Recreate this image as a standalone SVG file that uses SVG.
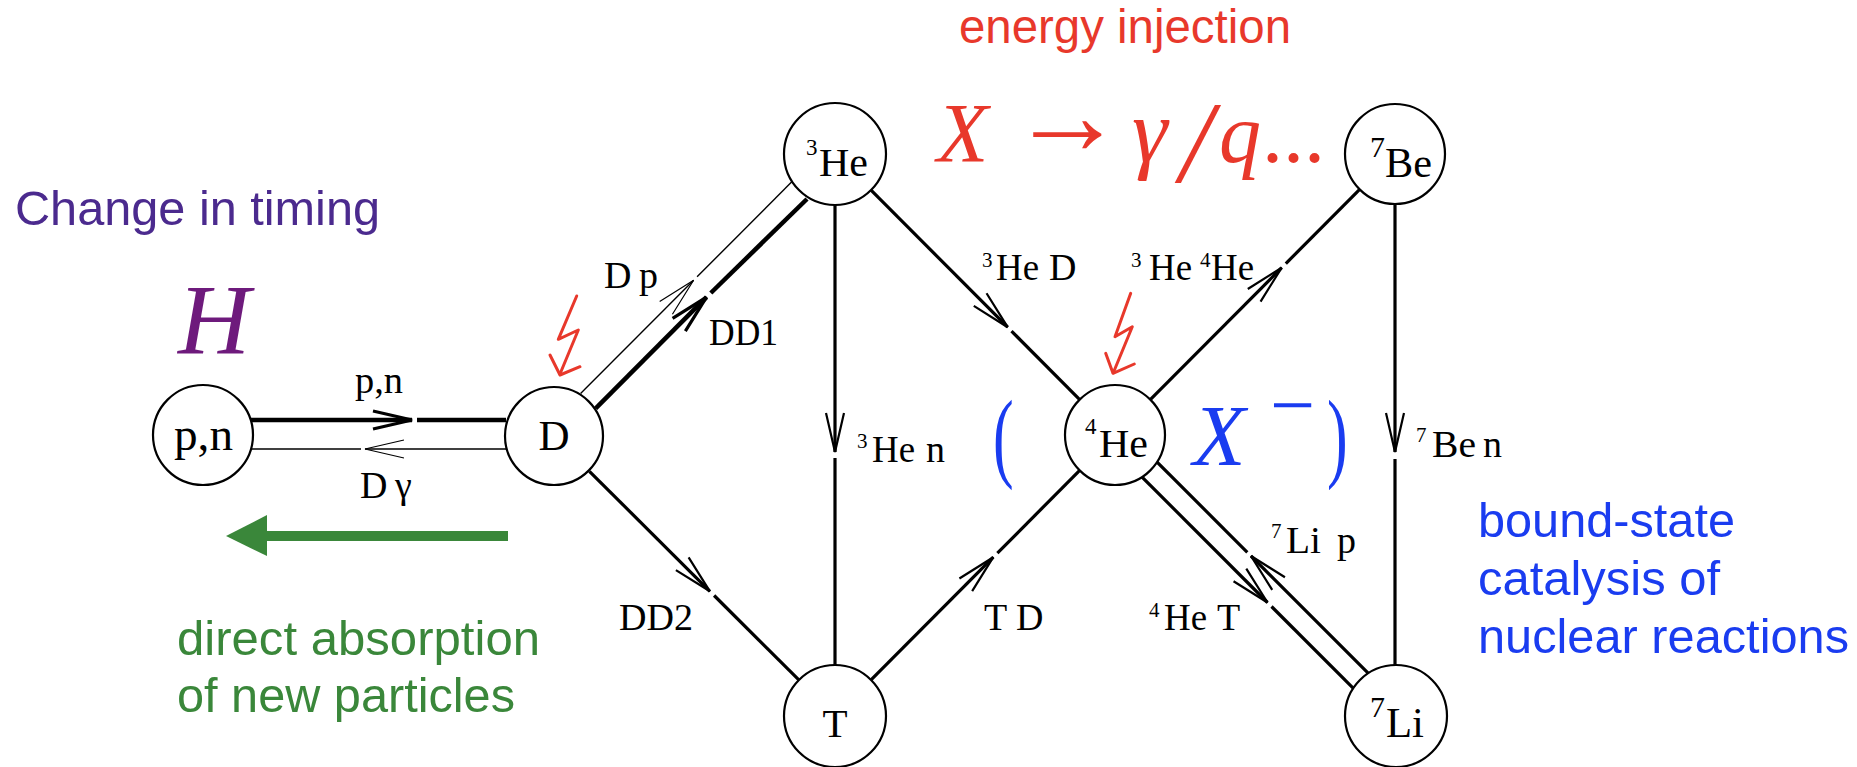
<svg xmlns="http://www.w3.org/2000/svg" width="1857" height="767" viewBox="0 0 1857 767">
<style>
  .bg { fill: #ffffff; }
  .node circle { fill: #ffffff; stroke: #000000; stroke-width: 2.2; }
  .nl { font-family: "Liberation Serif", "Times New Roman", serif; fill: #000000; }
  .el { font-family: "Liberation Serif", "Times New Roman", serif; font-size: 38px; fill: #000000; }
  .sup { font-size: 21px; }
  .thick { stroke: #000000; stroke-width: 4.5; fill: none; }
  .mid { stroke: #000000; stroke-width: 3.2; fill: none; }
  .thin { stroke: #000000; stroke-width: 1.4; fill: none; }
  .bolt { stroke: #e8382b; stroke-width: 3; fill: none; stroke-linejoin: round; stroke-linecap: round; }
  .sans { font-family: "Liberation Sans", Arial, sans-serif; font-size: 48px; }
  .math { font-family: "Liberation Serif", "Times New Roman", serif; }
</style>
<defs>
  <marker id="ahThick" markerUnits="userSpaceOnUse" viewBox="-44 -14 48 28" markerWidth="48" markerHeight="28" refX="0" refY="0" orient="auto" overflow="visible">
    <path d="M-39,-9 L0,0 L-39,9" fill="none" stroke="#000" stroke-width="3.2"/>
  </marker>
  <marker id="ahMid" markerUnits="userSpaceOnUse" viewBox="-44 -14 48 28" markerWidth="48" markerHeight="28" refX="0" refY="0" orient="auto" overflow="visible">
    <path d="M-39,-9 L0,0 L-39,9" fill="none" stroke="#000" stroke-width="2.2"/>
  </marker>
  <marker id="ahThin" markerUnits="userSpaceOnUse" viewBox="-44 -14 48 28" markerWidth="48" markerHeight="28" refX="0" refY="0" orient="auto" overflow="visible">
    <path d="M-39,-9 L0,0 L-39,9" fill="none" stroke="#000" stroke-width="1.2"/>
  </marker>
</defs>
<rect class="bg" x="0" y="0" width="1857" height="767"/>

<g id="connectors">
  <!-- p,n -> D (thick) -->
  <line class="thick" x1="250.7" y1="420" x2="412" y2="420" marker-end="url(#ahThick)"/>
  <line class="thick" x1="417" y1="420" x2="506" y2="420"/>
  <!-- D -> p,n (thin, D gamma) -->
  <line class="thin" x1="506" y1="449" x2="365" y2="449" marker-end="url(#ahThin)"/>
  <line class="thin" x1="361" y1="449" x2="251" y2="449"/>
  <!-- D -> 3He (D p, thin) -->
  <line class="thin" x1="580.6" y1="393.6" x2="693.6" y2="280.3" marker-end="url(#ahThin)"/>
  <line class="thin" x1="697.1" y1="276.8" x2="792.8" y2="180.8"/>
  <!-- D -> 3He (DD1, thick) -->
  <line class="thick" x1="595.7" y1="408.4" x2="706.5" y2="297.2" marker-end="url(#ahThick)"/>
  <line class="thick" x1="710.8" y1="293" x2="807" y2="199"/>
  <!-- D -> T (DD2) -->
  <line class="mid" x1="589.4" y1="471.3" x2="709.9" y2="591.3" marker-end="url(#ahMid)"/>
  <line class="mid" x1="714.1" y1="595.5" x2="799.6" y2="680.7"/>
  <!-- 3He -> T (3He n) -->
  <line class="mid" x1="835" y1="205" x2="835" y2="452" marker-end="url(#ahMid)"/>
  <line class="mid" x1="835" y1="458" x2="835" y2="665"/>
  <!-- 3He -> 4He (3He D) -->
  <line class="mid" x1="870.3" y1="189.4" x2="1007.7" y2="327.2" marker-end="url(#ahMid)"/>
  <line class="mid" x1="1011.5" y1="331.1" x2="1079.7" y2="399.6"/>
  <!-- 4He -> 7Be (3He 4He) -->
  <line class="mid" x1="1150.3" y1="399.6" x2="1281.7" y2="267.7" marker-end="url(#ahMid)"/>
  <line class="mid" x1="1285.8" y1="263.6" x2="1359.7" y2="189.4"/>
  <!-- 7Be -> 7Li (7Be n) -->
  <line class="mid" x1="1395" y1="204" x2="1395" y2="452" marker-end="url(#ahMid)"/>
  <line class="mid" x1="1395" y1="459" x2="1395" y2="666"/>
  <!-- T -> 4He (T D) -->
  <line class="mid" x1="870.3" y1="680.6" x2="993.3" y2="557.2" marker-end="url(#ahMid)"/>
  <line class="mid" x1="997.4" y1="553.1" x2="1079.7" y2="470.4"/>
  <!-- 4He -> 7Li (4He T) -->
  <line class="mid" x1="1142.1" y1="477.1" x2="1267.5" y2="602.5" marker-end="url(#ahMid)"/>
  <line class="mid" x1="1271.5" y1="606.5" x2="1353.9" y2="688.9"/>
  <!-- 7Li -> 4He (7Li p) -->
  <line class="mid" x1="1368.9" y1="673.9" x2="1251" y2="556" marker-end="url(#ahMid)"/>
  <line class="mid" x1="1247.3" y1="552.3" x2="1157.1" y2="462.1"/>
</g>

<g id="edge-labels">
  <text class="el" x="355" y="393" textLength="48" lengthAdjust="spacingAndGlyphs">p,n</text>
  <text class="el" y="498"><tspan x="360">D</tspan><tspan x="395">γ</tspan></text>
  <text class="el" y="288"><tspan x="604">D</tspan><tspan x="639">p</tspan></text>
  <text class="el" x="709" y="345" textLength="69" lengthAdjust="spacingAndGlyphs">DD1</text>
  <text class="el" x="619" y="630" textLength="74" lengthAdjust="spacingAndGlyphs">DD2</text>
  <text class="el"><tspan class="sup" x="857" y="448">3</tspan><tspan x="872" y="462" textLength="43" lengthAdjust="spacingAndGlyphs">He</tspan><tspan x="926" y="462">n</tspan></text>
  <text class="el"><tspan class="sup" x="982" y="267">3</tspan><tspan x="996" y="280" textLength="43" lengthAdjust="spacingAndGlyphs">He</tspan><tspan x="1049" y="280">D</tspan></text>
  <text class="el"><tspan class="sup" x="1131" y="267">3</tspan><tspan x="1149" y="280" textLength="43" lengthAdjust="spacingAndGlyphs">He</tspan><tspan class="sup" x="1200" y="267">4</tspan><tspan x="1211" y="280" textLength="43" lengthAdjust="spacingAndGlyphs">He</tspan></text>
  <text class="el"><tspan class="sup" x="1416" y="442">7</tspan><tspan x="1432" y="457" textLength="44" lengthAdjust="spacingAndGlyphs">Be</tspan><tspan x="1483" y="457">n</tspan></text>
  <text class="el" y="630"><tspan x="984">T</tspan><tspan x="1016">D</tspan></text>
  <text class="el"><tspan class="sup" x="1271" y="538">7</tspan><tspan x="1286" y="553" textLength="35" lengthAdjust="spacingAndGlyphs">Li</tspan><tspan x="1337" y="553">p</tspan></text>
  <text class="el"><tspan class="sup" x="1149" y="617">4</tspan><tspan x="1164" y="630" textLength="43" lengthAdjust="spacingAndGlyphs">He</tspan><tspan x="1217" y="630">T</tspan></text>
</g>

<g id="node-pn" class="node">
  <circle cx="203" cy="435" r="50"/>
  <text class="nl" x="174" y="450" font-size="47" textLength="59" lengthAdjust="spacingAndGlyphs">p,n</text>
</g>
<g id="node-D" class="node">
  <circle cx="554" cy="436" r="49"/>
  <text class="nl" x="554" y="450" font-size="43" text-anchor="middle">D</text>
</g>
<g id="node-He3" class="node">
  <circle cx="835" cy="154" r="51"/>
  <text class="nl"><tspan x="806" y="155" font-size="23">3</tspan><tspan x="819" y="176" font-size="40" textLength="49" lengthAdjust="spacingAndGlyphs">He</tspan></text>
</g>
<g id="node-T" class="node">
  <circle cx="835" cy="716" r="51"/>
  <text class="nl" x="835" y="737" font-size="41" text-anchor="middle">T</text>
</g>
<g id="node-He4" class="node">
  <circle cx="1115" cy="435" r="50"/>
  <text class="nl"><tspan x="1085" y="434" font-size="23">4</tspan><tspan x="1099" y="457" font-size="40" textLength="49" lengthAdjust="spacingAndGlyphs">He</tspan></text>
</g>
<g id="node-Be7" class="node">
  <circle cx="1395" cy="154" r="50"/>
  <text class="nl"><tspan x="1370" y="157" font-size="30">7</tspan><tspan x="1385" y="177" font-size="43" textLength="47" lengthAdjust="spacingAndGlyphs">Be</tspan></text>
</g>
<g id="node-Li7" class="node">
  <circle cx="1396" cy="716" r="51"/>
  <text class="nl"><tspan x="1370" y="717" font-size="30">7</tspan><tspan x="1386" y="737" font-size="43" textLength="38" lengthAdjust="spacingAndGlyphs">Li</tspan></text>
</g>

<g id="annotations">
  <text class="sans" x="959" y="43" font-size="44" fill="#e8382b" textLength="332" lengthAdjust="spacingAndGlyphs">energy injection</text>
  <text class="math" y="162" font-size="84" fill="#e8382b"><tspan x="937" font-style="italic">X</tspan><tspan x="1010" y="154" font-size="115">→</tspan><tspan x="1132" y="162" font-style="italic" font-size="90">γ</tspan><tspan x="1180" y="182" font-size="116" font-style="italic">/</tspan><tspan x="1219" y="162" font-style="italic" font-size="84">q</tspan><tspan x="1262">...</tspan></text>
  <text class="sans" x="15" y="225" fill="#4b2a8e" textLength="365" lengthAdjust="spacingAndGlyphs">Change in timing</text>
  <text class="math" x="178" y="353" font-size="100" font-style="italic" fill="#6e1a7c">H</text>
  <g id="bolt-D">
    <polyline class="bolt" points="576.7,296 558.3,339.3 578.3,330 560,374"/>
    <polyline class="bolt" points="550,355 560,375 580,366.7"/>
  </g>
  <g id="bolt-He4">
    <polyline class="bolt" points="1130.7,293.3 1115,336.7 1132.3,326.7 1113.3,372.7"/>
    <polyline class="bolt" points="1105.7,353.3 1113,373.3 1134.3,364"/>
  </g>
  <text class="math" transform="translate(993,469) scale(0.62,1)" x="0" y="0" font-size="100" fill="#1a3cf0">(</text>
  <text class="math" y="465" font-size="86" fill="#1a3cf0"><tspan x="1193" font-style="italic">X</tspan><tspan x="1270" y="432" font-size="80">−</tspan></text>
  <text class="math" transform="translate(1327,469) scale(0.62,1)" x="0" y="0" font-size="100" fill="#1a3cf0">)</text>
  <g id="green-arrow" fill="#3a873a">
    <polygon points="226,536 267,515 267,556"/>
    <rect x="265" y="531" width="243" height="10"/>
  </g>
  <text class="sans" fill="#3a873a"><tspan x="177" y="655" textLength="363" lengthAdjust="spacingAndGlyphs">direct absorption</tspan></text>
  <text class="sans" fill="#3a873a"><tspan x="177" y="712" textLength="338" lengthAdjust="spacingAndGlyphs">of new particles</tspan></text>
  <text class="sans" x="1478" y="537" fill="#1a3cf0" textLength="257" lengthAdjust="spacingAndGlyphs">bound-state</text>
  <text class="sans" x="1478" y="595" fill="#1a3cf0" textLength="242" lengthAdjust="spacingAndGlyphs">catalysis of</text>
  <text class="sans" x="1478" y="653" fill="#1a3cf0" textLength="371" lengthAdjust="spacingAndGlyphs">nuclear reactions</text>
</g>
</svg>
